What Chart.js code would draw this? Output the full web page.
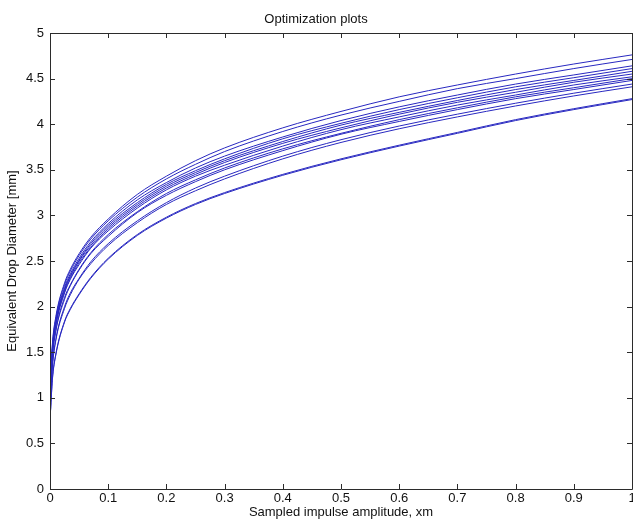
<!DOCTYPE html>
<html>
<head>
<meta charset="utf-8">
<title>Optimization plots</title>
<script src="https://cdn.jsdelivr.net/npm/chart.js@4/dist/chart.umd.min.js"></script>
<style>
  html, body { margin: 0; padding: 0; background: #fff; }
  #wrap { width: 633px; height: 525px; position: relative; }
</style>
</head>
<body>
<div id="wrap"><canvas id="optChart"></canvas></div>
<script>
// sampled amplitudes (x) shared by every run
const amplitudes = [0.001, 0.004, 0.01, 0.025, 0.035, 0.05, 0.07, 0.1, 0.15, 0.2, 0.25, 0.3, 0.4, 0.5, 0.6, 0.7, 0.8, 0.9, 1.0];

// equivalent drop diameter [mm] for each optimisation run
const run01 = [1.20, 1.58, 1.89, 2.26, 2.41, 2.58, 2.76, 2.96, 3.23, 3.43, 3.60, 3.74, 3.96, 4.14, 4.30, 4.43, 4.55, 4.66, 4.76];
const run02 = [1.18, 1.56, 1.87, 2.24, 2.39, 2.56, 2.74, 2.94, 3.20, 3.40, 3.56, 3.70, 3.92, 4.10, 4.25, 4.39, 4.50, 4.61, 4.71];
const run03 = [1.16, 1.53, 1.84, 2.21, 2.36, 2.53, 2.71, 2.91, 3.17, 3.36, 3.52, 3.65, 3.86, 4.04, 4.19, 4.32, 4.44, 4.54, 4.64];
const run04 = [1.15, 1.52, 1.83, 2.19, 2.34, 2.51, 2.69, 2.89, 3.14, 3.34, 3.49, 3.62, 3.84, 4.01, 4.16, 4.29, 4.41, 4.51, 4.61];
const run05 = [1.14, 1.51, 1.81, 2.18, 2.33, 2.50, 2.67, 2.87, 3.12, 3.32, 3.47, 3.60, 3.81, 3.99, 4.13, 4.26, 4.38, 4.48, 4.58];
const run06 = [1.13, 1.50, 1.80, 2.16, 2.31, 2.48, 2.65, 2.85, 3.10, 3.30, 3.45, 3.58, 3.79, 3.96, 4.11, 4.24, 4.35, 4.46, 4.55];
const run07 = [1.12, 1.49, 1.79, 2.15, 2.30, 2.46, 2.64, 2.83, 3.08, 3.28, 3.43, 3.55, 3.76, 3.94, 4.08, 4.21, 4.32, 4.43, 4.52];
const run08 = [1.08, 1.44, 1.74, 2.10, 2.24, 2.41, 2.59, 2.79, 3.04, 3.24, 3.39, 3.52, 3.73, 3.90, 4.05, 4.18, 4.30, 4.40, 4.50];
const run09 = [1.07, 1.43, 1.73, 2.08, 2.23, 2.40, 2.58, 2.77, 3.03, 3.22, 3.37, 3.50, 3.71, 3.89, 4.03, 4.16, 4.28, 4.38, 4.48];
const run10 = [1.00, 1.34, 1.64, 2.00, 2.15, 2.31, 2.49, 2.69, 2.94, 3.14, 3.30, 3.43, 3.65, 3.83, 3.98, 4.11, 4.23, 4.34, 4.44];
const run11 = [0.99, 1.33, 1.63, 1.98, 2.13, 2.30, 2.47, 2.67, 2.92, 3.12, 3.27, 3.40, 3.62, 3.80, 3.95, 4.08, 4.20, 4.31, 4.41];
const run12 = [0.86, 1.19, 1.47, 1.83, 1.97, 2.13, 2.31, 2.52, 2.78, 2.97, 3.12, 3.24, 3.44, 3.61, 3.76, 3.90, 4.04, 4.16, 4.27];
const run13 = [0.87, 1.20, 1.48, 1.84, 1.98, 2.14, 2.32, 2.53, 2.79, 2.98, 3.13, 3.25, 3.45, 3.62, 3.77, 3.91, 4.05, 4.17, 4.28];

const runs = [run01, run02, run03, run04, run05, run06, run07, run08, run09, run10, run11, run12, run13];

const xTicks = [0, 0.1, 0.2, 0.3, 0.4, 0.5, 0.6, 0.7, 0.8, 0.9, 1];
const yTicks = [0, 0.5, 1, 1.5, 2, 2.5, 3, 3.5, 4, 4.5, 5];

const FONT = '"Liberation Sans", Arial, Helvetica, sans-serif';
const AXIS_COLOR = '#2b2b2b';
const LINE_COLOR = '#2828c0';

// matlab style box with ticks pointing inward on all four sides
const matlabBox = {
    id: 'matlabBox',
    afterDraw(chart) {
        const { ctx, chartArea: a, scales } = chart;
        const len = 5;
        ctx.save();
        ctx.strokeStyle = AXIS_COLOR;
        ctx.lineWidth = 1;
        ctx.beginPath();
        ctx.rect(Math.round(a.left) + 0.5, Math.round(a.top) + 0.5,
                 Math.round(a.right - a.left), Math.round(a.bottom - a.top));
        scales.x.ticks.forEach(t => {
            const px = Math.round(scales.x.getPixelForValue(t.value)) + 0.5;
            ctx.moveTo(px, a.bottom); ctx.lineTo(px, a.bottom - len);
            ctx.moveTo(px, a.top); ctx.lineTo(px, a.top + len);
        });
        scales.y.ticks.forEach(t => {
            const py = Math.round(scales.y.getPixelForValue(t.value)) + 0.5;
            ctx.moveTo(a.left, py); ctx.lineTo(a.left + len, py);
            ctx.moveTo(a.right, py); ctx.lineTo(a.right - len, py);
        });
        ctx.stroke();
        ctx.restore();
    }
};

const datasets = runs.map((run, i) => ({
    label: 'run ' + (i + 1),
    data: amplitudes.map((x, j) => ({ x: x, y: run[j] })),
    borderColor: LINE_COLOR,
    borderWidth: 1,
    pointRadius: 0,
    fill: false,
    cubicInterpolationMode: 'monotone'
}));

new Chart(document.getElementById('optChart'), {
    type: 'line',
    data: { datasets },
    plugins: [matlabBox],
    options: {
        responsive: true,
        maintainAspectRatio: false,
        animation: false,
        layout: { padding: { left: 0, right: 1, top: 0, bottom: 0 } },
        plugins: {
            legend: { display: false },
            tooltip: { enabled: false },
            title: {
                display: true,
                text: 'Optimization plots',
                color: '#111',
                font: { family: FONT, size: 13, weight: 'normal' },
                padding: { top: 12, bottom: 5.4 }
            }
        },
        scales: {
            x: {
                type: 'linear',
                min: 0,
                max: 1,
                afterBuildTicks: s => { s.ticks = xTicks.map(v => ({ value: v })); },
                afterFit: s => { s.height = 36; s.paddingLeft = 0; s.paddingRight = 0; },
                grid: { display: false, drawTicks: false },
                border: { display: false },
                ticks: {
                    color: '#111',
                    padding: 2,
                    maxRotation: 0,
                    font: { family: FONT, size: 13 },
                    callback: v => String(v)
                },
                title: {
                    display: true,
                    text: 'Sampled impulse amplitude, xm',
                    color: '#111',
                    font: { family: FONT, size: 13 },
                    padding: { top: 0, bottom: 5 }
                }
            },
            y: {
                type: 'linear',
                min: 0,
                max: 5,
                afterBuildTicks: s => { s.ticks = yTicks.map(v => ({ value: v })); },
                afterFit: s => { s.width = 50; },
                grid: { display: false, drawTicks: false },
                border: { display: false },
                ticks: {
                    color: '#111',
                    padding: 6,
                    font: { family: FONT, size: 13 },
                    callback: v => String(v)
                },
                title: {
                    display: true,
                    text: 'Equivalent Drop Diameter [mm]',
                    color: '#111',
                    font: { family: FONT, size: 13 },
                    padding: { top: 5, bottom: 0 }
                }
            }
        }
    }
});
</script>
</body>
</html>
